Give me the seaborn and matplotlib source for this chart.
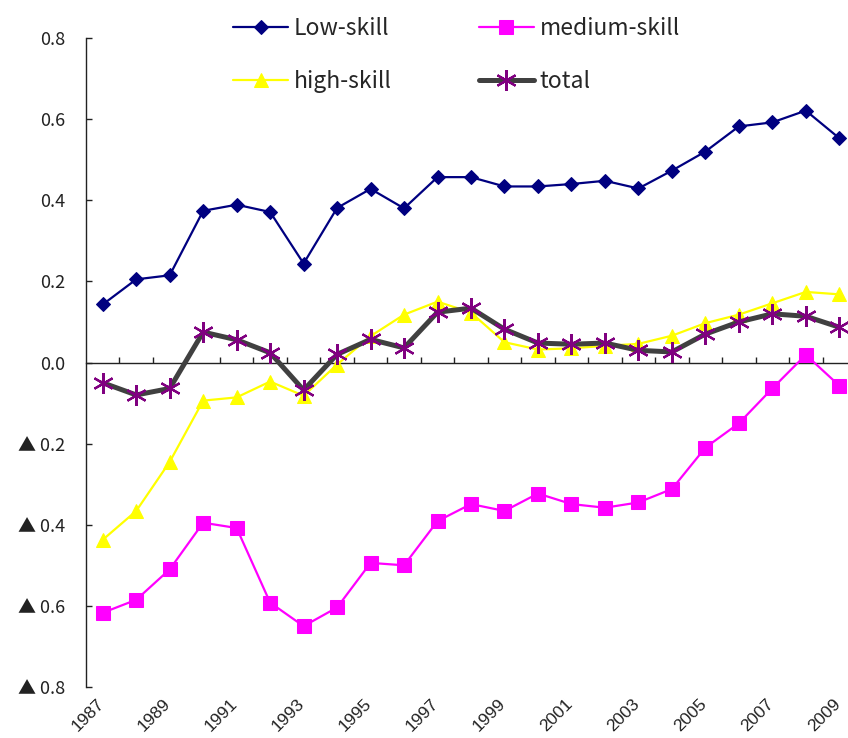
import numpy as np
import pandas as pd
import matplotlib
matplotlib.use("Agg")
import matplotlib.pyplot as plt
import matplotlib.transforms as mtransforms
from matplotlib.ticker import FuncFormatter, FixedLocator
import seaborn as sns

# Data
years = list(range(1987, 2010))
low_skill = [0.143, 0.205, 0.215, 0.374, 0.389, 0.371, 0.244, 0.381, 0.428, 0.380,
             0.457, 0.457, 0.434, 0.434, 0.440, 0.448, 0.429, 0.473, 0.520, 0.582,
             0.592, 0.621, 0.553]
medium_skill = [-0.617, -0.585, -0.510, -0.395, -0.408, -0.592, -0.650, -0.604, -0.494,
                -0.500, -0.391, -0.349, -0.366, -0.323, -0.349, -0.358, -0.345, -0.312,
                -0.210, -0.150, -0.064, 0.019, -0.057]
high_skill = [-0.437, -0.366, -0.245, -0.094, -0.086, -0.047, -0.082, -0.005, 0.065,
              0.118, 0.150, 0.123, 0.050, 0.032, 0.035, 0.041, 0.046, 0.066, 0.097,
              0.118, 0.146, 0.174, 0.168]
total = [-0.050, -0.080, -0.064, 0.075, 0.056, 0.024, -0.068, 0.020, 0.057, 0.036,
         0.124, 0.134, 0.082, 0.048, 0.045, 0.048, 0.030, 0.026, 0.070, 0.100,
         0.120, 0.114, 0.087]
series_names = ["Low-skill", "medium-skill", "high-skill", "total"]
y_ticks = [-0.8, -0.6, -0.4, -0.2, 0.0, 0.2, 0.4, 0.6, 0.8]

df = pd.DataFrame({
    "pos": np.arange(len(years)),
    "year": years,
    "Low-skill": low_skill,
    "medium-skill": medium_skill,
    "high-skill": high_skill,
    "total": total,
})

sns.set_style("white")
plt.rcParams["font.family"] = ["Noto Sans CJK JP", "DejaVu Sans"]

fig = plt.figure(figsize=(8.48, 7.38), dpi=100)
ax = fig.add_axes([86 / 848, 1 - 687 / 738, 770 / 848, (687 - 38) / 738])

sns.lineplot(data=df, x="pos", y="Low-skill", ax=ax, color="#000080", lw=1.6,
             marker="D", markersize=7.5, markeredgecolor="#000080", label="Low-skill",
             zorder=3)
sns.lineplot(data=df, x="pos", y="medium-skill", ax=ax, color="#FF00FF", lw=1.6,
             marker="s", markersize=10, markeredgecolor="#FF00FF", label="medium-skill",
             zorder=3)
sns.lineplot(data=df, x="pos", y="high-skill", ax=ax, color="#FFFF00", lw=1.6,
             marker="^", markersize=10, markeredgecolor="#FFFF00", label="high-skill",
             zorder=4)
sns.lineplot(data=df, x="pos", y="total", ax=ax, color="#404040", lw=3.6,
             marker=(6, 2, 0), markersize=15, markeredgecolor="#800080",
             markeredgewidth=1.6, label="total", zorder=5)

ax.set_xlim(-0.5, len(years) - 0.5)
ax.set_ylim(-0.8, 0.8)
ax.set_xlabel("")
ax.set_ylabel("")

# Spines: left axis and a horizontal axis crossing at zero
for side in ("top", "right"):
    ax.spines[side].set_visible(False)
ax.spines["bottom"].set_position(("data", 0))
for side in ("left", "bottom"):
    ax.spines[side].set_color("#222222")
    ax.spines[side].set_linewidth(1.0)

# Category boundary ticks on the zero line
ax.xaxis.set_major_locator(FixedLocator(np.arange(0.5, len(years), 1.0)))
ax.tick_params(axis="x", which="major", bottom=True, direction="in", length=4.5,
               width=1, color="#222222", labelbottom=False)

# Year labels below the plot, every other year
trans = mtransforms.blended_transform_factory(ax.transData, ax.transAxes)
for i, yr in enumerate(years):
    if i % 2 == 0:
        ax.text(i + 0.12, -0.014, str(yr), rotation=45, ha="right", va="top",
                fontsize=12.5, family=["Liberation Sans", "DejaVu Sans"],
                color="#222222", transform=trans)

# Y axis with triangle-marked negatives
ax.yaxis.set_major_locator(FixedLocator(y_ticks))


def fmt(v, _pos):
    if v < -1e-9:
        return "\u25B2 " + f"{abs(v):.1f}"
    return f"{v:.1f}"


ax.yaxis.set_major_formatter(FuncFormatter(fmt))
ax.tick_params(axis="y", which="major", left=True, direction="in", length=4.5,
               width=1, color="#222222", pad=15, labelsize=13, labelcolor="#222222")

# Legend in two columns above the plot
handles, labels = ax.get_legend_handles_labels()
order = [labels.index(n) for n in ["Low-skill", "high-skill", "medium-skill", "total"]]
ax.legend([handles[i] for i in order], [labels[i] for i in order],
          ncol=2, loc="upper left", bbox_to_anchor=(233 / 848, 1 - 17 / 738),
          bbox_transform=fig.transFigure, frameon=False, fontsize=16.5,
          handlelength=2.4, handletextpad=0.25, labelspacing=1.3,
          columnspacing=3.8, borderpad=0, borderaxespad=0)

fig.savefig("out.png", dpi=100)
